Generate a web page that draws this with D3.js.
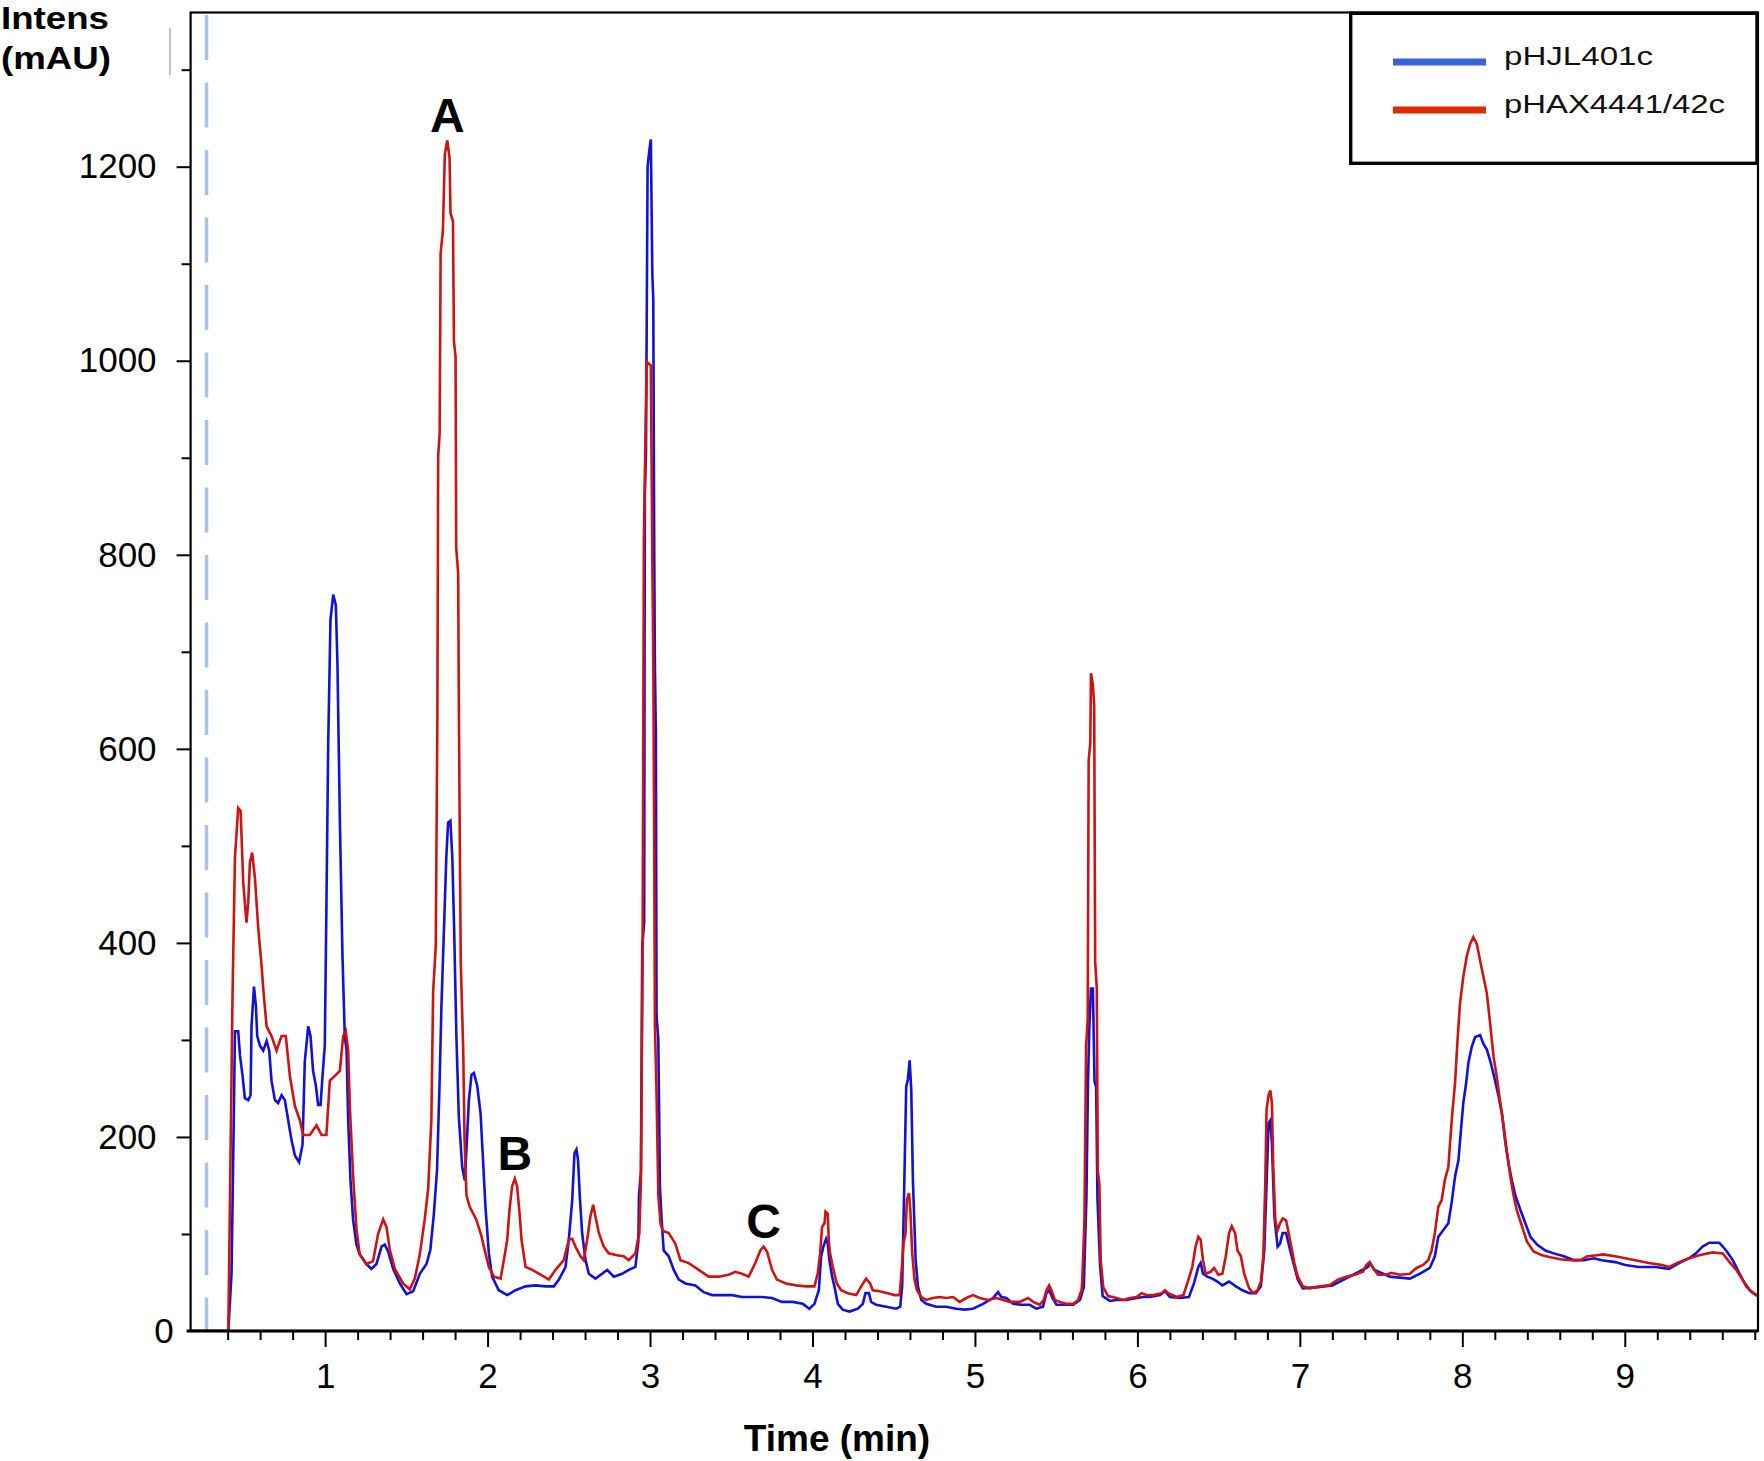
<!DOCTYPE html>
<html>
<head>
<meta charset="utf-8">
<script src="https://cdn.jsdelivr.net/npm/d3@7.9.0/dist/d3.min.js"></script>
<style>
  body { margin: 0; background: #fff; }
  svg { display: block; font-family: "Liberation Sans", Arial, sans-serif; }
</style>
</head>
<body>
<div id="chart"></div>
<script>
// ---- data: [time (min), intensity (mAU)] ----
const seriesNames = ['pHJL401c', 'pHAX4441/42c'];

const bluePoints = [
  [0.172,0],[0.404,0],[0.424,59],[0.439,233],[0.445,309],[0.465,309],[0.476,284],[0.492,263],[0.506,240],[0.527,238],
  [0.541,243],[0.547,314],[0.562,355],[0.574,335],[0.582,304],[0.599,294],[0.619,289],[0.64,299],[0.656,289],[0.67,258],
  [0.691,238],[0.711,235],[0.732,243],[0.752,238],[0.773,217],[0.793,197],[0.814,181],[0.84,174],[0.861,192],[0.875,278],
  [0.896,314],[0.91,304],[0.926,268],[0.943,253],[0.957,233],[0.972,233],[0.984,263],[0.998,294],[1.008,437],[1.019,605],
  [1.033,733],[1.05,759],[1.066,748],[1.076,687],[1.091,524],[1.107,386],[1.121,304],[1.132,289],[1.142,217],[1.156,156],
  [1.172,115],[1.193,89],[1.213,79],[1.254,69],[1.285,64],[1.316,69],[1.347,87],[1.367,89],[1.388,82],[1.419,64],
  [1.46,49],[1.501,38],[1.542,41],[1.583,59],[1.624,69],[1.648,84],[1.669,120],[1.689,166],[1.705,258],[1.716,335],
  [1.726,386],[1.736,437],[1.746,488],[1.757,524],[1.771,526],[1.783,488],[1.794,416],[1.808,304],[1.823,221],[1.844,169],
  [1.86,155],[1.875,204],[1.885,238],[1.901,264],[1.916,266],[1.936,253],[1.957,224],[1.973,173],[1.987,128],[2.008,80],
  [2.028,56],[2.069,42],[2.121,37],[2.172,42],[2.234,46],[2.295,47],[2.357,46],[2.408,46],[2.439,53],[2.48,66],
  [2.5,94],[2.521,135],[2.535,183],[2.547,187],[2.557,176],[2.568,138],[2.582,101],[2.603,73],[2.623,59],[2.664,54],
  [2.705,59],[2.736,63],[2.777,56],[2.828,59],[2.869,63],[2.91,66],[2.928,92],[2.932,140],[2.944,164],[2.952,397],
  [2.964,421],[2.968,863],[2.975,903],[2.985,1200],[2.995,1216],[3.005,1228],[3.014,1091],[3.02,1063],[3.026,799],[3.03,686],
  [3.036,614],[3.04,325],[3.051,301],[3.061,148],[3.071,116],[3.084,83],[3.115,77],[3.146,63],[3.177,53],[3.218,49],
  [3.279,47],[3.33,40],[3.382,37],[3.443,37],[3.505,37],[3.566,35],[3.627,35],[3.689,35],[3.751,34],[3.812,30],
  [3.878,30],[3.94,28],[3.981,23],[4.012,28],[4.039,42],[4.053,77],[4.067,87],[4.084,95],[4.094,90],[4.104,73],
  [4.121,56],[4.135,46],[4.156,28],[4.186,22],[4.228,20],[4.279,23],[4.31,28],[4.326,39],[4.347,39],[4.361,30],
  [4.392,27],[4.454,25],[4.515,23],[4.54,25],[4.552,46],[4.563,135],[4.577,252],[4.587,259],[4.598,279],[4.608,248],
  [4.618,156],[4.635,73],[4.649,46],[4.67,32],[4.7,28],[4.762,25],[4.824,25],[4.885,23],[4.937,22],[4.988,23],
  [5.05,28],[5.111,34],[5.142,40],[5.163,35],[5.193,34],[5.235,28],[5.286,27],[5.337,27],[5.378,23],[5.419,25],
  [5.44,39],[5.457,42],[5.477,34],[5.502,27],[5.543,27],[5.605,27],[5.646,32],[5.67,45],[5.686,137],[5.696,257],
  [5.704,312],[5.714,353],[5.726,353],[5.736,257],[5.746,252],[5.754,137],[5.77,68],[5.786,36],[5.83,31],[5.872,32],
  [5.933,32],[5.995,34],[6.036,35],[6.077,35],[6.139,37],[6.17,41],[6.2,35],[6.262,34],[6.317,35],[6.348,49],
  [6.375,66],[6.389,70],[6.404,59],[6.43,56],[6.461,54],[6.492,51],[6.523,47],[6.564,51],[6.606,46],[6.647,42],
  [6.688,39],[6.729,39],[6.76,46],[6.781,83],[6.795,152],[6.807,214],[6.818,217],[6.828,193],[6.843,118],[6.863,87],
  [6.878,90],[6.894,101],[6.915,101],[6.935,87],[6.956,73],[6.987,53],[7.018,44],[7.1,45],[7.2,47],[7.306,56],
  [7.419,66],[7.43,70],[7.46,63],[7.553,56],[7.677,54],[7.738,59],[7.8,65],[7.831,77],[7.852,97],[7.883,104],
  [7.914,111],[7.934,132],[7.955,159],[7.976,176],[7.99,204],[8.006,235],[8.023,255],[8.037,276],[8.058,293],[8.079,303],
  [8.109,305],[8.13,296],[8.151,290],[8.171,279],[8.196,262],[8.223,242],[8.244,224],[8.264,195],[8.285,172],[8.305,155],
  [8.326,140],[8.357,125],[8.388,111],[8.419,97],[8.46,89],[8.511,83],[8.563,80],[8.625,77],[8.687,73],[8.748,73],
  [8.81,75],[8.858,73],[8.941,71],[9.003,68],[9.086,66],[9.189,66],[9.272,64],[9.334,70],[9.396,75],[9.438,80],
  [9.479,87],[9.52,91],[9.582,91],[9.624,83],[9.665,73],[9.707,59],[9.748,46],[9.79,39],[9.82,36]
];

const redPoints = [
  [0.172,0],[0.404,0],[0.414,130],[0.43,345],[0.445,488],[0.465,539],[0.48,536],[0.496,462],[0.516,421],[0.527,442],
  [0.537,483],[0.551,493],[0.568,467],[0.588,416],[0.609,376],[0.623,345],[0.64,314],[0.67,304],[0.701,289],[0.732,304],
  [0.758,304],[0.783,263],[0.814,232],[0.845,217],[0.865,202],[0.906,202],[0.947,212],[0.978,202],[1.008,202],[1.029,258],
  [1.06,263],[1.091,268],[1.111,304],[1.127,309],[1.142,289],[1.152,232],[1.172,161],[1.193,105],[1.213,79],[1.254,69],
  [1.295,72],[1.326,100],[1.357,115],[1.378,107],[1.398,84],[1.429,64],[1.48,49],[1.521,43],[1.552,54],[1.583,79],
  [1.613,115],[1.634,146],[1.654,217],[1.665,350],[1.681,396],[1.691,631],[1.696,902],[1.705,925],[1.711,1111],[1.725,1134],
  [1.737,1213],[1.752,1227],[1.766,1209],[1.772,1152],[1.787,1144],[1.793,1020],[1.803,1004],[1.807,807],[1.819,781],[1.823,650],
  [1.828,529],[1.835,380],[1.85,290],[1.858,200],[1.87,140],[1.89,128],[1.93,115],[1.962,98],[1.977,87],[2.008,66],
  [2.039,56],[2.08,54],[2.1,73],[2.121,94],[2.135,125],[2.151,149],[2.168,157],[2.182,149],[2.197,121],[2.209,94],
  [2.234,66],[2.275,63],[2.326,58],[2.377,53],[2.418,63],[2.469,73],[2.5,94],[2.521,95],[2.541,87],[2.572,77],
  [2.592,73],[2.613,94],[2.633,118],[2.65,130],[2.664,118],[2.685,101],[2.715,87],[2.746,80],[2.797,78],[2.838,77],
  [2.869,73],[2.91,80],[2.925,94],[2.934,100],[2.944,156],[2.954,373],[2.962,815],[2.979,999],[3.005,995],[3.014,799],
  [3.02,694],[3.026,494],[3.03,317],[3.04,245],[3.051,140],[3.065,110],[3.08,103],[3.115,101],[3.156,90],[3.187,73],
  [3.238,70],[3.3,63],[3.361,56],[3.423,56],[3.484,58],[3.525,61],[3.566,59],[3.607,56],[3.648,70],[3.679,83],
  [3.699,87],[3.72,82],[3.751,63],[3.781,53],[3.837,49],[3.899,47],[3.961,46],[4.012,46],[4.032,59],[4.047,80],
  [4.059,107],[4.074,111],[4.08,123],[4.094,121],[4.1,94],[4.108,80],[4.125,66],[4.15,49],[4.176,42],[4.217,39],
  [4.269,37],[4.3,46],[4.33,54],[4.355,49],[4.371,42],[4.413,41],[4.464,39],[4.505,37],[4.536,37],[4.546,56],
  [4.56,90],[4.573,101],[4.581,135],[4.594,142],[4.602,125],[4.614,80],[4.628,53],[4.643,42],[4.67,35],[4.7,32],
  [4.741,34],[4.782,35],[4.824,34],[4.865,35],[4.906,30],[4.947,34],[4.988,37],[5.029,34],[5.08,32],[5.132,34],
  [5.173,32],[5.214,30],[5.276,30],[5.327,34],[5.358,30],[5.399,27],[5.424,32],[5.44,42],[5.457,47],[5.471,42],
  [5.492,32],[5.522,30],[5.563,28],[5.605,28],[5.635,32],[5.656,42],[5.66,50],[5.674,114],[5.684,293],[5.694,321],
  [5.7,588],[5.71,606],[5.714,678],[5.726,666],[5.734,645],[5.74,381],[5.75,353],[5.756,165],[5.766,151],[5.774,73],
  [5.79,45],[5.82,36],[5.872,34],[5.913,32],[5.954,34],[5.995,35],[6.026,39],[6.057,37],[6.098,37],[6.149,39],
  [6.17,42],[6.19,39],[6.242,35],[6.283,37],[6.307,49],[6.338,66],[6.358,87],[6.375,97],[6.389,94],[6.404,73],
  [6.42,59],[6.451,61],[6.472,65],[6.498,58],[6.523,59],[6.544,77],[6.564,101],[6.581,108],[6.601,101],[6.616,83],
  [6.637,77],[6.657,59],[6.688,44],[6.713,39],[6.74,42],[6.76,51],[6.775,77],[6.787,152],[6.795,228],[6.807,243],
  [6.818,248],[6.828,235],[6.836,169],[6.849,114],[6.863,104],[6.878,111],[6.894,116],[6.915,114],[6.931,101],[6.952,83],
  [6.966,70],[6.987,56],[7.018,46],[7.059,44],[7.121,46],[7.182,47],[7.234,53],[7.285,56],[7.337,58],[7.388,61],
  [7.409,68],[7.43,71],[7.45,65],[7.481,58],[7.533,58],[7.563,60],[7.615,58],[7.677,59],[7.718,65],[7.759,68],
  [7.79,73],[7.811,83],[7.831,101],[7.852,128],[7.873,135],[7.893,156],[7.914,169],[7.924,193],[7.94,228],[7.955,255],
  [7.969,296],[7.986,338],[8.006,365],[8.027,386],[8.048,399],[8.068,406],[8.089,399],[8.109,382],[8.13,365],[8.151,348],
  [8.171,317],[8.192,283],[8.212,262],[8.233,236],[8.254,212],[8.274,185],[8.295,160],[8.315,140],[8.336,124],[8.367,108],
  [8.398,92],[8.439,82],[8.491,78],[8.542,76],[8.604,74],[8.666,73],[8.728,73],[8.769,77],[8.83,78],[8.868,79],
  [8.941,77],[9.003,75],[9.065,73],[9.148,70],[9.23,68],[9.272,66],[9.334,71],[9.396,75],[9.458,78],[9.541,81],
  [9.603,80],[9.645,71],[9.686,63],[9.728,52],[9.769,42],[9.82,36]
];

// tick values
const xMajorTicks = [1, 2, 3, 4, 5, 6, 7, 8, 9];
const yMajorTicks = [0, 200, 400, 600, 800, 1000, 1200];
const yMinorTicks = [100, 300, 500, 700, 900, 1100, 1300];

// peak labels: [label, time, peak intensity]
const peakLabels = [['A', 1.752, 1227], ['B', 2.168, 157], ['C', 3.699, 87]];

// injection marker time (dashed line)
const injectionTime = 0.27;

// ---- layout ----
const width = 1764;
const height = 1461;
const plot = { left: 190.6, right: 1758, top: 12.5, bottom: 1331 };

const svg = d3.select('#chart')
  .append('svg')
  .attr('width', width)
  .attr('height', height);

const x = d3.scaleLinear().domain([0.172, 9.82]).range([plot.left, plot.right]);
const y = d3.scaleLinear().domain([0, 1200]).range([plot.bottom, 166.7]);

svg.append('defs').append('clipPath').attr('id', 'clip')
  .append('rect')
  .attr('x', plot.left).attr('y', plot.top)
  .attr('width', plot.right - plot.left).attr('height', plot.bottom - plot.top);

// dashed injection marker
svg.append('line')
  .attr('x1', x(injectionTime)).attr('x2', x(injectionTime))
  .attr('y1', 15).attr('y2', plot.bottom)
  .attr('stroke', '#a9c2e6')
  .attr('stroke-width', 3.5)
  .attr('stroke-dasharray', '45 22.5');

// ---- traces ----
const line = d3.line()
  .x((d) => x(d[0]))
  .y((d) => y(d[1]));

const traces = svg.append('g').attr('clip-path', 'url(#clip)');
traces.append('path')
  .datum(bluePoints)
  .attr('fill', 'none')
  .attr('stroke', '#1212d6')
  .attr('stroke-width', 2.6)
  .attr('stroke-linejoin', 'miter')
  .attr('d', line);
traces.append('path')
  .datum(redPoints)
  .attr('fill', 'none')
  .attr('stroke', '#cc1414')
  .attr('stroke-width', 2.6)
  .attr('d', line);

// ---- axes ----
const xMinor = d3.range(0.4, 9.81, 0.2).filter((t) => Math.abs(t - Math.round(t)) > 0.05);

const xMinorAxis = svg.append('g')
  .attr('transform', `translate(0,${plot.bottom})`)
  .call(d3.axisBottom(x).tickValues(xMinor).tickSize(9).tickFormat(''));
const xAxis = svg.append('g')
  .attr('transform', `translate(0,${plot.bottom})`)
  .call(d3.axisBottom(x).tickValues(xMajorTicks).tickSize(16).tickPadding(16).tickFormat(d3.format('d')));

const yMinorAxis = svg.append('g')
  .attr('transform', `translate(${plot.left},0)`)
  .call(d3.axisLeft(y).tickValues(yMinorTicks).tickSize(9).tickFormat(''));
const yAxis = svg.append('g')
  .attr('transform', `translate(${plot.left},0)`)
  .call(d3.axisLeft(y).tickValues(yMajorTicks).tickSize(14).tickPadding(20).tickFormat(d3.format('d')));

svg.selectAll('.domain').remove();
svg.selectAll('.tick line').attr('stroke', '#000').attr('stroke-width', 2);
svg.selectAll('.tick text')
  .attr('font-family', '"Liberation Sans", Arial, sans-serif')
  .attr('font-size', 35)
  .attr('fill', '#000');
// the zero label sits closer to the axis
yAxis.selectAll('.tick').filter((d) => d === 0).select('text').attr('x', -17);
yAxis.selectAll('.tick').filter((d) => d === 0).select('line').remove();

// ---- frame ----
svg.append('rect')
  .attr('x', plot.left).attr('y', plot.top)
  .attr('width', plot.right - plot.left).attr('height', plot.bottom - plot.top)
  .attr('fill', 'none')
  .attr('stroke', '#000')
  .attr('stroke-width', 2.2);
svg.append('line')
  .attr('x1', plot.left - 4).attr('x2', plot.right)
  .attr('y1', plot.bottom).attr('y2', plot.bottom)
  .attr('stroke', '#000')
  .attr('stroke-width', 3.2);

// stray grey segment near the top of the y axis
svg.append('line')
  .attr('x1', 170).attr('x2', 170)
  .attr('y1', 28).attr('y2', 75)
  .attr('stroke', '#9a9a9a')
  .attr('stroke-width', 1.2);

// ---- axis titles ----
svg.append('text')
  .attr('x', 1).attr('y', 29)
  .attr('font-size', 31).attr('font-weight', 'bold')
  .attr('textLength', 108).attr('lengthAdjust', 'spacingAndGlyphs')
  .text('Intens');
svg.append('text')
  .attr('x', 1).attr('y', 69)
  .attr('font-size', 31).attr('font-weight', 'bold')
  .attr('textLength', 110).attr('lengthAdjust', 'spacingAndGlyphs')
  .text('(mAU)');
svg.append('text')
  .attr('x', 837).attr('y', 1451)
  .attr('text-anchor', 'middle')
  .attr('font-size', 37).attr('font-weight', 'bold')
  .text('Time (min)');

// ---- peak labels ----
svg.append('g').selectAll('text')
  .data(peakLabels)
  .join('text')
  .attr('x', (d) => x(d[1]))
  .attr('y', (d) => y(d[2]) - 9)
  .attr('text-anchor', 'middle')
  .attr('font-size', 48)
  .attr('font-weight', 'bold')
  .text((d) => d[0]);

// ---- legend ----
const legend = svg.append('g');
legend.append('rect')
  .attr('x', 1350.7).attr('y', 13.3)
  .attr('width', 406.3).attr('height', 150)
  .attr('fill', '#fff')
  .attr('stroke', '#000')
  .attr('stroke-width', 3.4);

const legendColors = ['#3b63d9', '#de2a00'];
const legendLengths = [149, 221];
const legendRows = legend.selectAll('g.row')
  .data(seriesNames)
  .join('g')
  .attr('class', 'row')
  .attr('transform', (d, i) => `translate(0,${62 + i * 48})`);
legendRows.append('line')
  .attr('x1', 1393).attr('x2', 1486)
  .attr('stroke', (d, i) => legendColors[i])
  .attr('stroke-width', 7);
legendRows.append('text')
  .attr('x', 1504).attr('y', 3)
  .attr('font-size', 26)
  .attr('textLength', (d, i) => legendLengths[i])
  .attr('lengthAdjust', 'spacingAndGlyphs')
  .attr('fill', '#111')
  .text((d) => d);
</script>
</body>
</html>
